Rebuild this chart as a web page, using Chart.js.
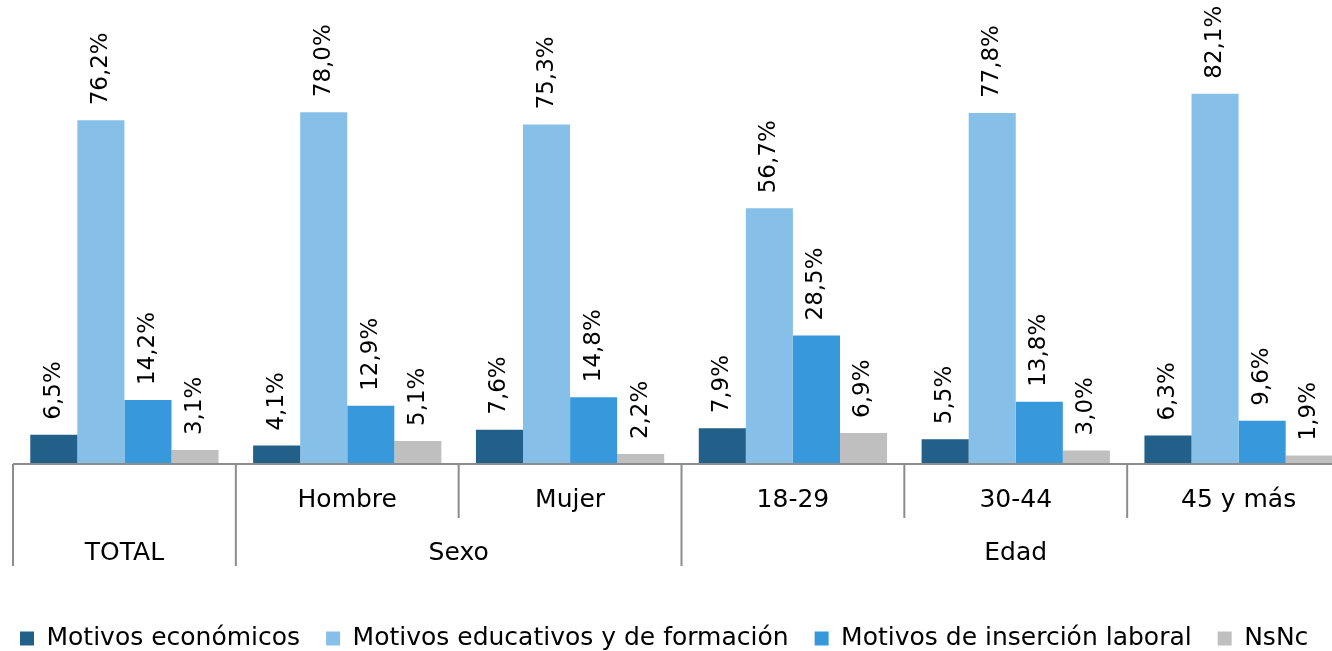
<!DOCTYPE html>
<html>
<head>
<meta charset="utf-8">
<script src="https://cdn.jsdelivr.net/npm/chart.js@4"></script>
<style>
  html, body { margin: 0; padding: 0; background: #fff; overflow: hidden; }
</style>
</head>
<body>
<canvas id="chart" width="1350" height="651"></canvas>
<script>
// Data
const categories = ['', 'Hombre', 'Mujer', '18-29', '30-44', '45 y más'];
const groupLabels = ['TOTAL', 'Sexo', 'Edad'];
const groupSizes = [1, 2, 3];

const economicos = [6.5, 4.1, 7.6, 7.9, 5.5, 6.3];
const educativos = [76.2, 78.0, 75.3, 56.7, 77.8, 82.1];
const insercion = [14.2, 12.9, 14.8, 28.5, 13.8, 9.6];
const nsnc = [3.1, 5.1, 2.2, 6.9, 3.0, 1.9];

const FONT = '"DejaVu Sans", sans-serif';
const fmt = (v) => v.toFixed(1).replace('.', ',') + '%';

// Plugins
const barLabels = {
  id: 'barLabels',
  afterDatasetsDraw(chart) {
    const ctx = chart.ctx;
    ctx.save();
    ctx.font = '23px ' + FONT;
    ctx.fillStyle = '#000';
    ctx.textAlign = 'left';
    ctx.textBaseline = 'middle';
    chart.data.datasets.forEach((ds, i) => {
      chart.getDatasetMeta(i).data.forEach((bar, j) => {
        ctx.save();
        ctx.translate(bar.x, bar.y - 15);
        ctx.rotate(-Math.PI / 2);
        ctx.fillText(fmt(ds.data[j]), 0, 0);
        ctx.restore();
      });
    });
    ctx.restore();
  }
};

const twoLevelAxis = {
  id: 'twoLevelAxis',
  afterDraw(chart) {
    const ctx = chart.ctx;
    const x = chart.scales.x;
    const y0 = chart.chartArea.bottom;
    const step = x.getPixelForValue(1) - x.getPixelForValue(0);
    const edge = (i) => x.getPixelForValue(i) - step / 2;

    ctx.save();
    ctx.strokeStyle = '#8c8c8c';
    ctx.lineWidth = 2;
    const line = (x1, y1, x2, y2) => {
      ctx.beginPath();
      ctx.moveTo(x1, y1);
      ctx.lineTo(x2, y2);
      ctx.stroke();
    };
    line(x.left, y0, x.right, y0);

    // group edges go all the way down, the rest stop after the first row
    const groupEdges = [0];
    groupSizes.forEach((n) => groupEdges.push(groupEdges[groupEdges.length - 1] + n));
    for (let i = 0; i <= categories.length; i++) {
      const long = groupEdges.includes(i);
      line(edge(i), y0, edge(i), y0 + (long ? 102 : 54));
    }

    ctx.fillStyle = '#000';
    ctx.font = '25px ' + FONT;
    ctx.textAlign = 'center';
    ctx.textBaseline = 'middle';
    categories.forEach((c, i) => {
      ctx.fillText(c, x.getPixelForValue(i), y0 + 36);
    });
    groupLabels.forEach((g, k) => {
      const mid = (edge(groupEdges[k]) + edge(groupEdges[k + 1])) / 2;
      ctx.fillText(g, mid, y0 + 89);
    });
    ctx.restore();
  }
};

new Chart(document.getElementById('chart'), {
  type: 'bar',
  data: {
    labels: categories,
    datasets: [
      { label: 'Motivos económicos', data: economicos, backgroundColor: '#22608a' },
      { label: 'Motivos educativos y de formación', data: educativos, backgroundColor: '#86c0e8' },
      { label: 'Motivos de inserción laboral', data: insercion, backgroundColor: '#3798db' },
      { label: 'NsNc', data: nsnc, backgroundColor: '#bfbfbf' }
    ]
  },
  options: {
    responsive: false,
    animation: false,
    layout: { padding: { top: 13, right: 0, bottom: -10, left: -6 } },
    datasets: {
      bar: { barPercentage: 1, categoryPercentage: 0.845 }
    },
    scales: {
      x: {
        grid: { display: false },
        border: { display: false },
        ticks: { display: false },
        afterFit: (scale) => { scale.height = 136; }
      },
      y: {
        min: 0,
        max: 100,
        grid: { display: false },
        border: { display: false },
        ticks: { display: false },
        afterFit: (scale) => { scale.width = 19; }
      }
    },
    plugins: {
      tooltip: { enabled: false },
      legend: {
        position: 'bottom',
        align: 'start',
        labels: {
          boxWidth: 14,
          boxHeight: 14,
          padding: 26,
          color: '#000',
          font: { family: FONT, size: 25 }
        }
      }
    }
  },
  plugins: [barLabels, twoLevelAxis]
});
</script>
</body>
</html>
